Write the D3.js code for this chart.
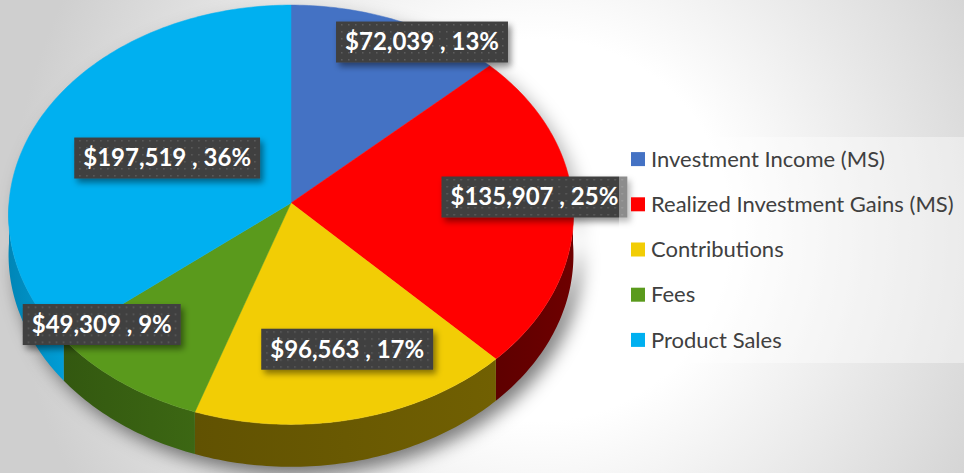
<!DOCTYPE html>
<html>
<head>
<meta charset="utf-8" />
<style>
body { margin:0; padding:0; overflow:hidden; }
svg { display:block; }
.lbl { font-family: Lato, "Open Sans", sans-serif; font-weight:bold; font-size:24px; fill:#fff; }
.leg { font-family: Lato, "Open Sans", sans-serif; font-size:22px; fill:#404040; }
</style>
</head>
<body>
<svg id="chart" width="964" height="473" xmlns="http://www.w3.org/2000/svg"></svg>
<script src="https://cdn.jsdelivr.net/npm/d3@7"></script>
<script>

// data
var categories = ["Investment Income (MS)", "Realized Investment Gains (MS)", "Contributions", "Fees", "Product Sales"];
var values = [72039, 135907, 96563, 49309, 197519];
var percents = [13, 25, 17, 9, 36];
var colors = ["#4472c4", "#ff0000", "#f2cd05", "#5a9a1c", "#00b0f0"];

// label placement: angle in degrees (clockwise from 12 o'clock), radius as fraction
var labelAngle = [31.1, 88.1, 164.1, 229.1, 296.1];
var labelRadius = [0.94, 0.865, 0.70, 0.86, 0.495];

var W = 964, H = 473;
var CX = 291, CY = 203, A = 282, D = 209, PERSP = -0.056, DEPTH = 40;

var svg = d3.select("#chart");
var defs = svg.append("defs");

// background
var bg = defs.append("radialGradient").attr("id","bg")
	.attr("gradientUnits","userSpaceOnUse")
	.attr("cx",540).attr("cy",230).attr("r",530);
bg.append("stop").attr("offset",0).attr("stop-color","#ffffff");
bg.append("stop").attr("offset",0.36).attr("stop-color","#ffffff");
bg.append("stop").attr("offset",1).attr("stop-color","#cfcfcf");
svg.append("rect").attr("width",W).attr("height",H).attr("fill","url(#bg)");

// filters
var blur = defs.append("filter").attr("id","pieShadow")
	.attr("x","-20%").attr("y","-20%").attr("width","140%").attr("height","140%");
blur.append("feGaussianBlur").attr("stdDeviation",9);

var boxSh = defs.append("filter").attr("id","boxShadow")
	.attr("x","-20%").attr("y","-30%").attr("width","140%").attr("height","170%");
boxSh.append("feDropShadow").attr("dx",3).attr("dy",4).attr("stdDeviation",3)
	.attr("flood-color","#000").attr("flood-opacity",0.45);

var dots = defs.append("pattern").attr("id","dots")
	.attr("patternUnits","userSpaceOnUse").attr("width",7).attr("height",7);
dots.append("rect").attr("width",7).attr("height",7).attr("fill","#404040");
dots.append("rect").attr("x",3).attr("y",3).attr("width",1.5).attr("height",1.5).attr("fill","#5e5e5e");

// projection of a point on the tilted disc
function proj(t, r, z) {
	var u = r*Math.sin(t), v = -r*Math.cos(t);
	var w = 1 + PERSP*v;
	return [CX + A*u/w, CY + D*v/w + (z || 0)/w];
}

function arcPts(t0, t1, r, z) {
	var n = Math.max(2, Math.ceil(Math.abs(t1-t0)*60));
	return d3.range(n+1).map(function(i) { return proj(t0 + (t1-t0)*i/n, r, z); });
}

var line = d3.line().curve(d3.curveLinear);
var pie = d3.pie().sort(null).value(function(d) { return d; });
var arcs = pie(values);

var HALF = Math.PI/2, FRONT_END = 3*Math.PI/2;

// shadow under the pie
var sh = svg.append("g").attr("filter","url(#pieShadow)").attr("transform","translate(7,8)");
sh.append("path").attr("d", line(arcPts(0, 2*Math.PI, 1, 0)
		.concat(arcPts(2*Math.PI, 0, 1, DEPTH))) + "Z")
	.attr("fill","#000").attr("opacity",0.3);
sh.append("path").attr("d", line(arcPts(HALF, FRONT_END, 1, DEPTH).concat(arcPts(FRONT_END, HALF, 1, 0))) + "Z")
	.attr("fill","#000").attr("opacity",0.3);

// brightness of the side walls, darker toward the right
var sideShade = d3.scaleLinear().domain([0, 200, 580]).range([0.85, 0.45, 0.39]).clamp(true);

var sides = svg.append("g");
arcs.forEach(function(a, i) {
	var t0 = Math.max(a.startAngle, HALF), t1 = Math.min(a.endAngle, FRONT_END);
	if (t1 <= t0) return;
	var top = arcPts(t0, t1, 1, 0);
	var bot = arcPts(t1, t0, 1, DEPTH);
	var midX = proj((t0+t1)/2, 1, 0)[0];
	var c = d3.rgb(colors[i]), k = sideShade(midX);
	var g = defs.append("linearGradient").attr("id","side"+i)
		.attr("gradientUnits","userSpaceOnUse")
		.attr("x1",top[0][0]).attr("x2",top[top.length-1][0]).attr("y1",0).attr("y2",0);
	g.append("stop").attr("offset",0).attr("stop-color", d3.rgb(c.r*k*1.1, c.g*k*1.1, c.b*k*1.1));
	g.append("stop").attr("offset",1).attr("stop-color", d3.rgb(c.r*k*0.94, c.g*k*0.94, c.b*k*0.94));
	sides.append("path").attr("d", line(top.concat(bot)) + "Z")
		.attr("fill","url(#side"+i+")");
});

// top faces
var tops = svg.append("g");
arcs.forEach(function(a, i) {
	var pts = [proj(0,0,0)].concat(arcPts(a.startAngle, a.endAngle, 1, 0));
	tops.append("path").attr("d", line(pts) + "Z")
		.attr("fill", colors[i]).attr("stroke", colors[i]).attr("stroke-width",0.5);
});

// data labels
var fmt = d3.format("$,");
var lab = svg.append("g");
arcs.forEach(function(a, i) {
	var p = proj(labelAngle[i]*Math.PI/180, labelRadius[i], 0);
	var g = lab.append("g").attr("transform","translate("+p[0]+","+p[1]+")");
	var txt = g.append("text").attr("class","lbl").attr("text-anchor","middle")
		.attr("dy","0.35em").text(fmt(values[i]) + " , " + percents[i] + "%");
	var bw = txt.node().getComputedTextLength() + 18, bh = 41;
	g.insert("rect","text").attr("x",-bw/2).attr("y",-bh/2).attr("width",bw).attr("height",bh)
		.attr("fill","url(#dots)").attr("filter","url(#boxShadow)");
});

// legend
var leg = svg.append("g");
leg.append("rect").attr("x",619).attr("y",137).attr("width",W-619).attr("height",226)
	.attr("fill","#fff").attr("opacity",0.4);
var row = d3.scaleBand().domain(categories).range([137, 363]).paddingInner(0).paddingOuter(0);
categories.forEach(function(c, i) {
	var y = row(c) + row.bandwidth()/2 - 0.5;
	leg.append("rect").attr("x",631).attr("y",y-7).attr("width",14).attr("height",14).attr("fill",colors[i]);
	leg.append("text").attr("class","leg").attr("x",651).attr("y",y).attr("dy","0.35em").text(c);
});

</script>
</body>
</html>
